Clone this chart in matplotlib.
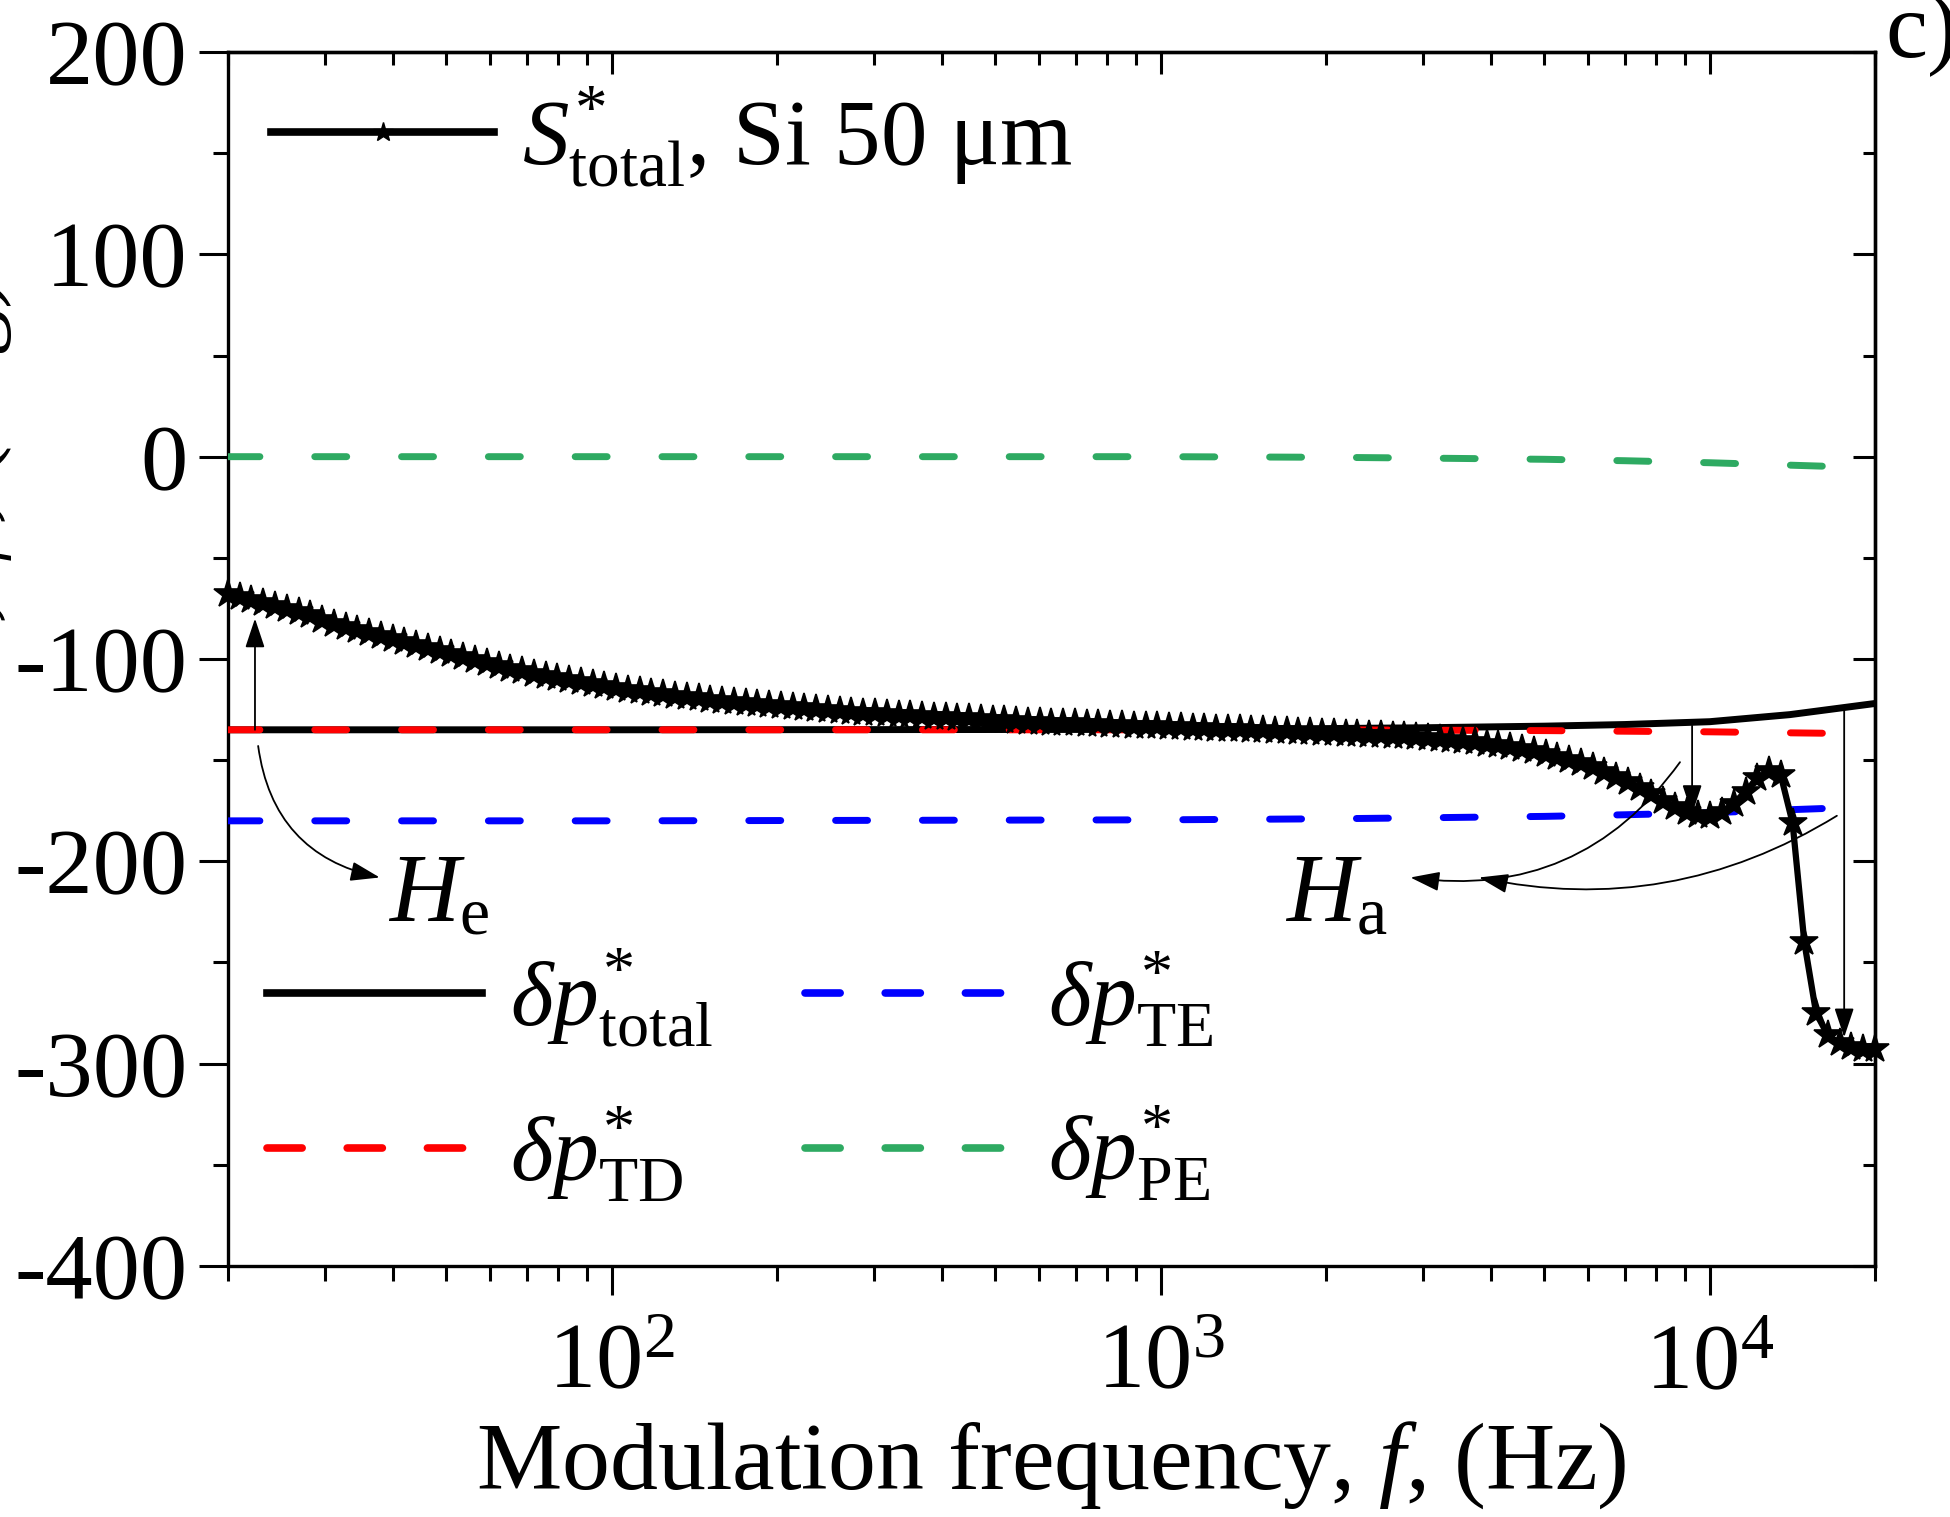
import numpy as np
import matplotlib
matplotlib.use("Agg")
import matplotlib.pyplot as plt
from matplotlib.ticker import MultipleLocator, LogLocator, NullFormatter, FixedLocator
from matplotlib.lines import Line2D

plt.rcParams['font.family'] = ['Liberation Serif', 'DejaVu Serif']
plt.rcParams['mathtext.fontset'] = 'custom'
plt.rcParams['mathtext.rm'] = 'Liberation Serif'
plt.rcParams['mathtext.it'] = 'Liberation Serif:italic'
plt.rcParams['mathtext.bf'] = 'Liberation Serif:bold'
plt.rcParams['axes.unicode_minus'] = False

# ---------------- data ----------------
# S*_total (star curve), sampled log-uniformly from 20 Hz to 20 kHz (141 points)
f_stot = np.geomspace(20, 20000, 141)
s_total = [
    -68.0, -69.5, -71.0, -72.5, -74.0, -75.5, -77.0, -78.5, -80.5, -82.5,
    -84.0, -85.5, -87.0, -88.5, -90.0, -91.5, -93.0, -94.5, -96.0, -97.5,
    -99.0, -100.5, -102.0, -103.5, -104.8, -106.0, -107.2, -108.4, -109.5, -110.5,
    -111.5, -112.5, -113.4, -114.3, -115.1, -115.9, -116.7, -117.4, -118.1, -118.8,
    -119.5, -120.1, -120.7, -121.3, -121.9, -122.4, -122.9, -123.4, -123.9, -124.4,
    -124.9, -125.3, -125.7, -126.1, -126.5, -126.9, -127.3, -127.6, -127.9, -128.2,
    -128.5, -128.8, -129.1, -129.4, -129.7, -130.0, -130.3, -130.6, -130.9, -131.2,
    -131.4, -131.6, -131.8, -132.0, -132.2, -132.5, -132.7, -132.9, -133.1, -133.3,
    -133.6, -133.8, -134.0, -134.2, -134.4, -134.6, -134.8, -135.0, -135.3, -135.5,
    -135.7, -135.9, -136.1, -136.4, -136.6, -136.9, -137.1, -137.4, -137.7, -138.0,
    -138.3, -138.6, -139.0, -139.4, -139.9, -140.5, -141.1, -141.8, -142.6, -143.5,
    -144.5, -145.6, -146.8, -148.2, -149.8, -151.6, -153.6, -155.8, -158.3, -161.0,
    -163.9, -166.9, -170.0, -173.0, -175.5, -177.2, -177.5, -175.5, -171.5, -165.5,
    -159.0, -155.5, -157.5, -181.0, -240.0, -275.0, -286.0, -290.0, -292.0, -293.0,
    -293.0,
]

# delta p* components
f_dp = [20, 100, 1000, 2000, 3000, 5000, 7000, 10000, 14000, 20000]
dp_total = [-135, -135, -134.8, -134.4, -134.0, -133.2, -132.4, -131.0, -127.5, -122.0]
dp_TD = [-135, -135, -135, -135, -135.2, -135.4, -135.7, -136.0, -136.5, -137.0]
dp_TE = [-180, -180, -179.5, -179, -178.5, -177.8, -177.0, -176.0, -174.5, -173.0]
dp_PE = [0, 0, 0, -0.3, -0.7, -1.3, -2.0, -3.0, -4.2, -5.5]

xtick_vals = [100, 1000, 10000]
xtick_labels = [r'$10^{2}$', r'$10^{3}$', r'$10^{4}$']
ytick_vals = [-400, -300, -200, -100, 0, 100, 200]

FS = 68

# ---------------- figure ----------------
fig = plt.figure(figsize=(19.5, 15.17), dpi=100)
ax = fig.add_axes([0.1169, 0.1655, 0.8446, 0.8002])
ax.set_xscale('log')
ax.set_xlim(20, 20000)
ax.set_ylim(-400, 200)

dash = (0, (4.6, 7.9))
LW = 5.0
ax.plot(f_dp, dp_total, color='black', lw=LW, solid_capstyle='butt', zorder=2)
ax.plot(f_dp, dp_TD, color='#ff0000', lw=LW, linestyle=dash, dash_capstyle='round', zorder=3)
ax.plot(f_dp, dp_TE, color='#0000ff', lw=LW, linestyle=dash, dash_capstyle='round', zorder=3)
ax.plot(f_dp, dp_PE, color='#2eaa62', lw=LW, linestyle=dash, dash_capstyle='round', zorder=3)
ax.plot(f_stot, s_total, color='black', lw=4.5, marker='*', ms=21, mfc='black', mec='black',
        mew=1.2, zorder=4, clip_on=False)

# ---------------- annotations ----------------
ap = dict(arrowstyle='-|>,head_length=0.9,head_width=0.3', color='black', lw=1.3,
          mutation_scale=20, shrinkA=0, shrinkB=0)
# H_e
ax.annotate('', xy=(22.4, -80), xytext=(22.4, -135), arrowprops=ap, zorder=6)
ax.annotate('', xy=(37.8, -208), xytext=(22.7, -143),
            arrowprops=dict(ap, connectionstyle='arc3,rad=0.35'), zorder=6)
ax.text(39.2, -229.5, r'$H_{\mathrm{e}}$', fontsize=70, ha='left', va='baseline')
# H_a
ax.annotate('', xy=(9290, -176.6), xytext=(9290, -133), arrowprops=ap, zorder=6)
ax.annotate('', xy=(17580, -287), xytext=(17580, -124), arrowprops=ap, zorder=6)
ax.annotate('', xy=(2850, -208), xytext=(8830, -151),
            arrowprops=dict(ap, connectionstyle='arc3,rad=-0.3'), zorder=6)
ax.annotate('', xy=(3800, -208), xytext=(17050, -177.5),
            arrowprops=dict(ap, connectionstyle='arc3,rad=-0.2'), zorder=6)
ax.text(1683, -229.5, r'$H_{\mathrm{a}}$', fontsize=70, ha='left', va='baseline')

# ---------------- axes styling ----------------
for sp in ax.spines.values():
    sp.set_linewidth(2.4)

ax.xaxis.set_major_locator(FixedLocator(xtick_vals))
ax.set_xticklabels(xtick_labels)
ax.xaxis.set_minor_locator(LogLocator(base=10, subs=np.arange(2, 10), numticks=20))
ax.xaxis.set_minor_formatter(NullFormatter())
ax.yaxis.set_major_locator(FixedLocator(ytick_vals))
ax.yaxis.set_minor_locator(MultipleLocator(50))
ax.tick_params(which='major', direction='out', length=21, width=2.2, labelsize=FS, pad=8)
ax.tick_params(which='minor', direction='out', length=11, width=2.2)
ax.tick_params(axis='x', which='major', pad=20)

secx = ax.secondary_xaxis('top')
secx.xaxis.set_major_locator(FixedLocator(xtick_vals))
secx.xaxis.set_minor_locator(LogLocator(base=10, subs=np.arange(2, 10), numticks=20))
secx.xaxis.set_minor_formatter(NullFormatter())
secx.tick_params(which='major', direction='in', length=16, width=2.2, labeltop=False)
secx.tick_params(which='minor', direction='in', length=9, width=2.2)
secx.spines['top'].set_linewidth(2.4)

secy = ax.secondary_yaxis('right')
secy.yaxis.set_major_locator(FixedLocator(ytick_vals))
secy.yaxis.set_minor_locator(MultipleLocator(50))
secy.tick_params(which='major', direction='in', length=16, width=2.2, labelright=False)
secy.tick_params(which='minor', direction='in', length=9, width=2.2)
secy.spines['right'].set_linewidth(2.4)

ax.set_xlabel(r'Modulation frequency, $f$, (Hz)', fontsize=69, labelpad=8)

# y label (mostly cut off at the left edge, as in the reference)
fig.text(14 / 1950, 1 - 280 / 1517, r'Phase, $\varphi$, (deg)', rotation=90,
         ha='right', va='top', fontsize=FS)
# panel label
fig.text(1885 / 1950, 1 - 57 / 1517, 'c)', ha='left', va='baseline', fontsize=FS)

# ---------------- legends ----------------
h1 = Line2D([], [], color='black', lw=5.5, marker='*', ms=15, mfc='black', mec='black')
leg1 = ax.legend([h1], [r'$S^{*}_{\mathrm{total}}$, Si 50 μm'], loc='center left',
                 bbox_to_anchor=(271 / 1950, 1 - 137 / 1517), bbox_transform=fig.transFigure,
                 frameon=False, fontsize=67, handlelength=2.4, handletextpad=0.3,
                 borderpad=0, borderaxespad=0, numpoints=1)
ax.add_artist(leg1)

ldash = (0, (4.6, 5.9))
hd = [Line2D([], [], color='black', lw=5.5),
      Line2D([], [], color='#ff0000', lw=5.5, linestyle=ldash, dash_capstyle='round'),
      Line2D([], [], color='#0000ff', lw=5.5, linestyle=ldash, dash_capstyle='round'),
      Line2D([], [], color='#2eaa62', lw=5.5, linestyle=ldash, dash_capstyle='round')]
lab = [r'$\delta p^{*}_{\mathrm{total}}$', r'$\delta p^{*}_{\mathrm{TD}}$',
       r'$\delta p^{*}_{\mathrm{TE}}$', r'$\delta p^{*}_{\mathrm{PE}}$']
leg2 = ax.legend(hd, lab, ncol=2, loc='center left',
                 bbox_to_anchor=(267 / 1950, 1 - 1075 / 1517), bbox_transform=fig.transFigure,
                 frameon=False, fontsize=66, handlelength=2.35, handletextpad=0.3,
                 columnspacing=1.0, labelspacing=0.6, borderpad=0, borderaxespad=0)

fig.savefig('out.png', dpi=100)
